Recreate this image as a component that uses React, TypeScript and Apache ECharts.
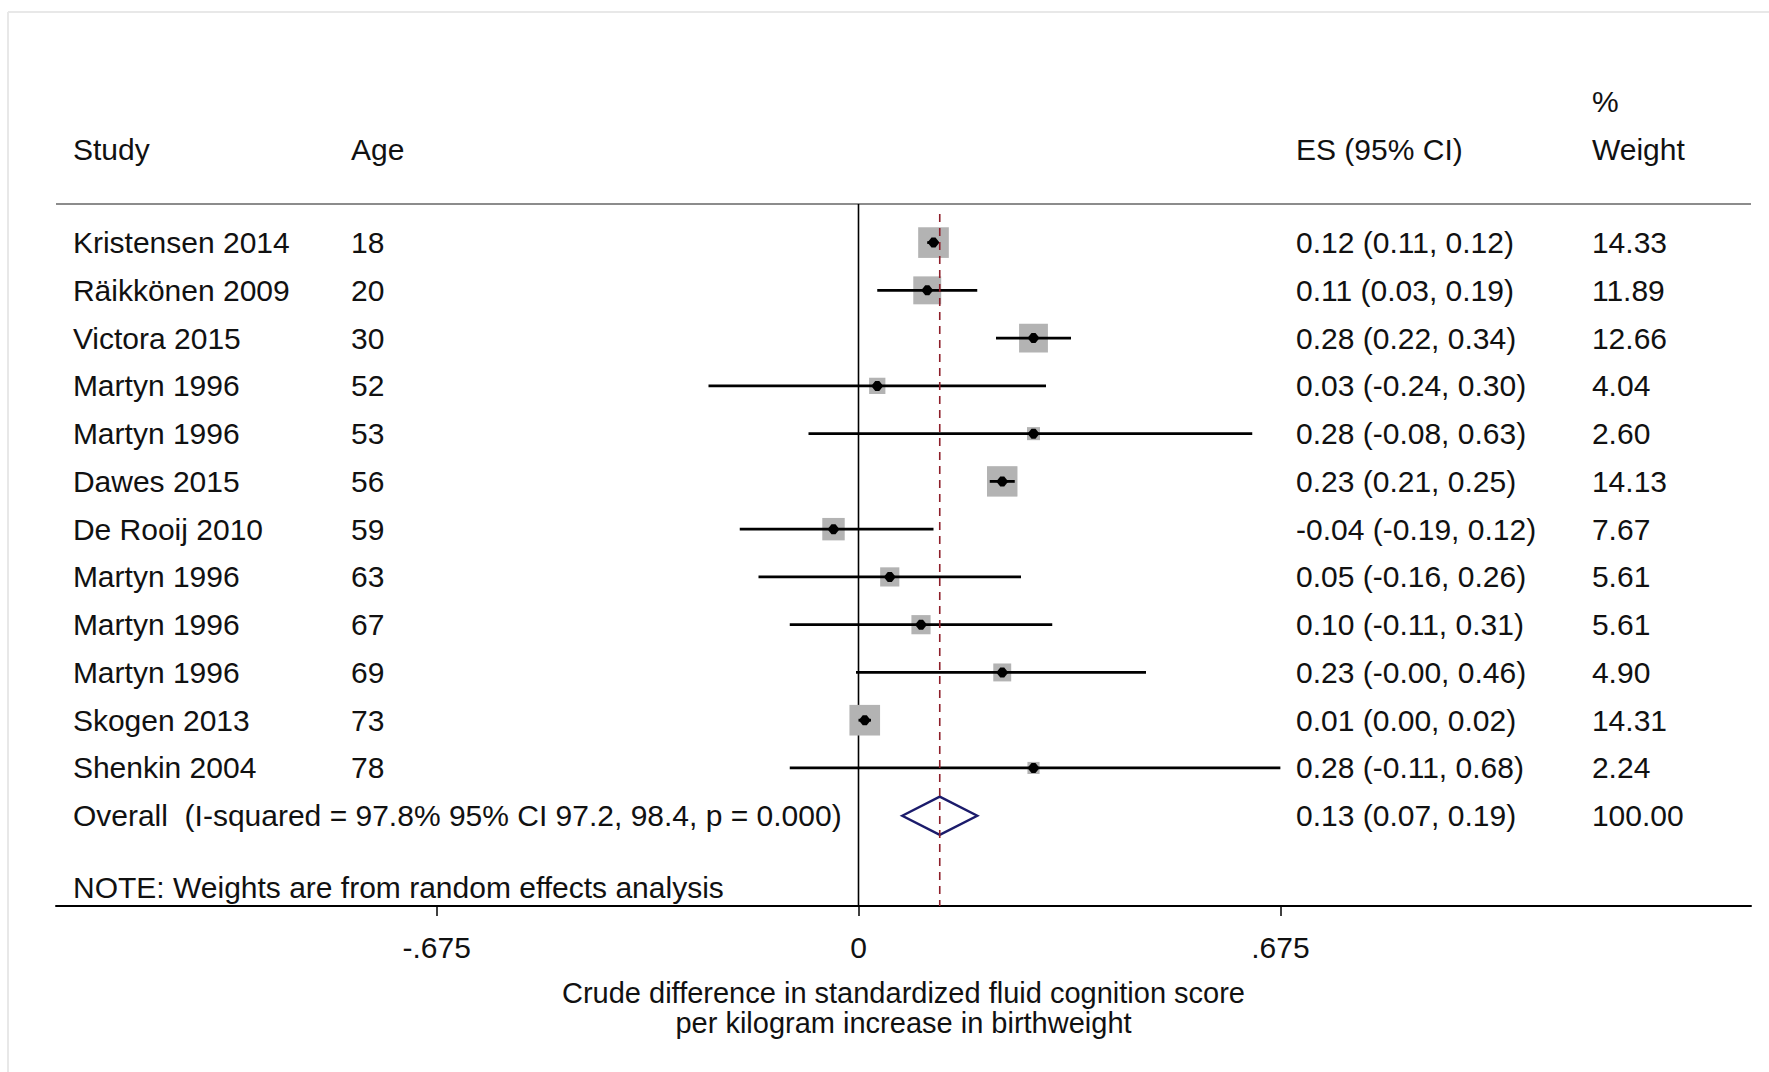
import React, { useEffect, useRef } from "react";
import * as echarts from "echarts";

// ---------- data ----------
const studies = [
  "Kristensen 2014", "Räikkönen 2009", "Victora 2015", "Martyn 1996", "Martyn 1996", "Dawes 2015",
  "De Rooij 2010", "Martyn 1996", "Martyn 1996", "Martyn 1996", "Skogen 2013", "Shenkin 2004",
];
const ages = [18, 20, 30, 52, 53, 56, 59, 63, 67, 69, 73, 78];
const effect = [0.12, 0.11, 0.28, 0.03, 0.28, 0.23, -0.04, 0.05, 0.10, 0.23, 0.01, 0.28];
const ciLow = [0.11, 0.03, 0.22, -0.24, -0.08, 0.21, -0.19, -0.16, -0.11, -0.004, 0.00, -0.11];
const ciHigh = [0.12, 0.19, 0.34, 0.30, 0.63, 0.25, 0.12, 0.26, 0.31, 0.46, 0.02, 0.68];
const weights = [14.33, 11.89, 12.66, 4.04, 2.60, 14.13, 7.67, 5.61, 5.61, 4.90, 14.31, 2.24];

const overallLabel = "Overall  (I-squared = 97.8% 95% CI 97.2, 98.4, p = 0.000)";
const overallEffect = 0.13;
const overallLow = 0.07;
const overallHigh = 0.19;
const overallWeight = 100.0;

const tickValues = [-0.675, 0, 0.675];
const tickLabels = ["-.675", "0", ".675"];
const axisTitle = "Crude difference in standardized fluid cognition score\nper kilogram increase in birthweight";
const noteText = "NOTE: Weights are from random effects analysis";

// ---------- layout ----------
const W = 1769;
const H = 1072;
const XMIN = -1.284;
const XMAX = 1.428;
const YMIN = -0.808;
const YMAX = 13.89;
const CLIP = 0.675;
const COL_STUDY = -1.257;
const COL_AGE = -0.812;
const COL_ES = 0.7;
const COL_WEIGHT = 1.1735;
const FONT = "'Liberation Sans', Arial, Helvetica, sans-serif";
const FS = 30;
const TXT = "#111111";
const BOX_K = 8.1;

const f2 = (v: number) => v.toFixed(2);

export default function App() {
  const ref = useRef<HTMLDivElement>(null);

  useEffect(() => {
    if (!ref.current) return;
    const chart = echarts.init(ref.current, null, { renderer: "svg" });

    const studyData = effect.map((e, i) => [e, i, ciLow[i], ciHigh[i], weights[i]]);
    const textRows = [
      ...studies.map((s, i) => ({
        value: [0, i],
        cols: [s, String(ages[i]), `${f2(effect[i])} (${f2(ciLow[i])}, ${f2(ciHigh[i])})`, f2(weights[i])],
      })),
      {
        value: [0, studies.length],
        cols: [overallLabel, "", `${f2(overallEffect)} (${f2(overallLow)}, ${f2(overallHigh)})`, f2(overallWeight)],
      },
    ];
    const colX = [COL_STUDY, COL_AGE, COL_ES, COL_WEIGHT];
    const overallRow = studies.length;

    const mkText = (text: string, x: number, y: number, extra: any = {}) => ({
      type: "text",
      x,
      y,
      style: { text, fill: TXT, fontSize: FS, fontFamily: FONT, align: "left", verticalAlign: "middle", ...extra },
    });

    const option: any = {
      animation: false,
      backgroundColor: "#ffffff",
      grid: { left: 56, right: W - 1751, top: 204, bottom: H - 906 },
      xAxis: [
        {
          type: "value",
          min: XMIN,
          max: XMAX,
          splitLine: { show: false },
          axisLine: { show: true, onZero: false, lineStyle: { color: "#000", width: 2 } },
          axisTick: { show: true, customValues: tickValues, length: 10, lineStyle: { color: "#000", width: 1.5 } },
          axisLabel: {
            show: true,
            customValues: tickValues,
            margin: 26,
            color: TXT,
            fontSize: FS,
            fontFamily: FONT,
            formatter: (v: number) => {
              const k = tickValues.findIndex((t) => Math.abs(t - v) < 1e-6);
              return k >= 0 ? tickLabels[k] : "";
            },
          },
          name: axisTitle,
          nameLocation: "middle",
          nameGap: 72,
          nameTextStyle: { color: TXT, fontSize: 29, lineHeight: 30, fontFamily: FONT },
        },
      ],
      yAxis: [{ type: "value", inverse: true, min: YMIN, max: YMAX, show: false }],
      series: [
        {
          type: "line",
          name: "header rule",
          clip: false,
          symbol: "none",
          silent: true,
          data: [[XMIN, YMIN], [XMAX, YMIN]],
          lineStyle: { color: "#8c8c8c", width: 2 },
          z: 1,
        },
        {
          type: "line",
          name: "null line",
          clip: false,
          symbol: "none",
          silent: true,
          data: [[0, YMIN], [0, YMAX]],
          lineStyle: { color: "#000", width: 1.6 },
          z: 1,
        },
        {
          type: "custom",
          name: "studies",
          coordinateSystem: "cartesian2d",
          clip: false,
          z: 2,
          data: studyData,
          encode: { x: 0, y: 1 },
          renderItem: (params: any, api: any) => {
            const e = api.value(0);
            const row = api.value(1);
            const lo = Math.max(api.value(2), -CLIP);
            const hi = Math.min(api.value(3), CLIP);
            const w = api.value(4);
            const c = api.coord([e, row]);
            const l = api.coord([lo, row]);
            const h = api.coord([hi, row]);
            const s = BOX_K * Math.sqrt(w);
            const d = 6;
            return {
              type: "group",
              children: [
                { type: "rect", shape: { x: c[0] - s / 2, y: c[1] - s / 2, width: s, height: s }, style: { fill: "#b3b3b3" } },
                { type: "line", shape: { x1: l[0], y1: l[1], x2: h[0], y2: h[1] }, style: { stroke: "#000", lineWidth: 2.8 } },
                {
                  type: "polygon",
                  shape: { points: [[c[0] - d, c[1]], [c[0] - 2, c[1] - d + 1], [c[0] + 2, c[1] - d + 1], [c[0] + d, c[1]], [c[0] + 2, c[1] + d - 1], [c[0] - 2, c[1] + d - 1]] },
                  style: { fill: "#000" },
                },
              ],
            };
          },
        },
        {
          type: "custom",
          name: "overall",
          coordinateSystem: "cartesian2d",
          clip: false,
          z: 2,
          data: [[overallEffect, overallRow, overallLow, overallHigh]],
          encode: { x: 0, y: 1 },
          renderItem: (params: any, api: any) => {
            const e = api.value(0);
            const row = api.value(1);
            const lo = api.value(2);
            const hi = api.value(3);
            const pts = [
              api.coord([lo, row]),
              api.coord([e, row - 0.4]),
              api.coord([hi, row]),
              api.coord([e, row + 0.4]),
            ];
            return {
              type: "polygon",
              shape: { points: pts },
              style: { fill: "rgba(255,255,255,0)", stroke: "#1b1b6b", lineWidth: 2.4 },
            };
          },
        },
        {
          type: "line",
          name: "overall line",
          clip: false,
          symbol: "none",
          silent: true,
          data: [[overallEffect, -0.6], [overallEffect, YMAX]],
          lineStyle: { color: "#8e1f2a", width: 1.6, type: [8, 6] },
          z: 3,
        },
        {
          type: "custom",
          name: "table",
          coordinateSystem: "cartesian2d",
          clip: false,
          z: 4,
          data: textRows,
          encode: { x: 0, y: 1 },
          renderItem: (params: any, api: any) => {
            const row = api.value(1);
            const cols = textRows[params.dataIndex].cols;
            return {
              type: "group",
              children: cols
                .map((t, k) => {
                  if (!t) return null;
                  const p = api.coord([colX[k], row]);
                  return mkText(t, p[0], p[1]);
                })
                .filter(Boolean),
            };
          },
        },
      ],
      graphic: [
        { type: "line", shape: { x1: 8, y1: 12, x2: W, y2: 12 }, style: { stroke: "#e8e8e8", lineWidth: 2 }, silent: true },
        { type: "line", shape: { x1: 8, y1: 12, x2: 8, y2: H }, style: { stroke: "#e8e8e8", lineWidth: 2 }, silent: true },
        mkText("Study", 73, 149),
        mkText("Age", 351, 149),
        mkText("ES (95% CI)", 1296, 149),
        mkText("%", 1592, 101.5),
        mkText("Weight", 1592, 149),
        mkText(noteText, 73, 887),
      ],
    };

    chart.setOption(option);
    return () => chart.dispose();
  }, []);

  return (
    <div
      ref={ref}
      style={{ position: "fixed", left: 0, top: 0, width: W, height: H, background: "#fff" }}
    />
  );
}
